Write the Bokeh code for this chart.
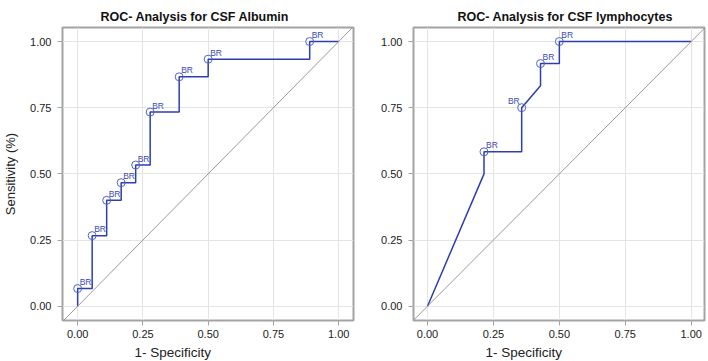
from bokeh.plotting import figure
from bokeh.models import Range1d, FixedTicker, NumeralTickFormatter, Slope, Title, ColumnDataSource
from bokeh.layouts import row
from bokeh.embed import file_html
from bokeh.resources import INLINE
from bokeh.core.properties import value

# ---------------- data ----------------
titles = ["ROC- Analysis for CSF Albumin", "ROC- Analysis for CSF lymphocytes"]
x_label = "1- Specificity"
y_label = "Sensitivity (%)"
tick_values = [0.0, 0.25, 0.5, 0.75, 1.0]

# CSF Albumin ROC curve vertices (1-specificity, sensitivity)
alb_fpr = [0, 0, 1/18, 1/18, 2/18, 2/18, 3/18, 3/18, 4/18, 4/18, 5/18, 5/18,
           7/18, 7/18, 9/18, 9/18, 16/18, 16/18, 1]
alb_tpr = [0, 1/15, 1/15, 4/15, 4/15, 6/15, 6/15, 7/15, 7/15, 8/15, 8/15, 11/15,
           11/15, 13/15, 13/15, 14/15, 14/15, 1, 1]
# CSF Albumin marked cut-off points
alb_pt_fpr = [0, 1/18, 2/18, 3/18, 4/18, 5/18, 7/18, 9/18, 16/18]
alb_pt_tpr = [1/15, 4/15, 6/15, 7/15, 8/15, 11/15, 13/15, 14/15, 1]
alb_pt_lab = ["BR"] * 9

# CSF lymphocytes ROC curve vertices
lym_fpr = [0, 3/14, 3/14, 5/14, 5/14, 6/14, 6/14, 7/14, 7/14, 1]
lym_tpr = [0, 6/12, 7/12, 7/12, 9/12, 10/12, 11/12, 11/12, 1, 1]
# CSF lymphocytes marked cut-off points
lym_pt_fpr = [3/14, 5/14, 6/14, 7/14]
lym_pt_tpr = [7/12, 9/12, 11/12, 1]
lym_pt_lab = ["BR"] * 4

# ---------------- style ----------------
LINE = "#2d3eae"
MARK = "#5264c2"
TXT = "#3a4ab2"
FRAME = "#a3a3a3"
GRID = "#e4e4e4"
FONT = "Liberation Sans"


def make_panel(title, fpr, tpr, pfpr, ptpr, plab, align, width, bl, br, xr, yr, ylab, toff):
    p = figure(width=width, height=361, output_backend="svg", toolbar_location=None,
               x_range=Range1d(*xr), y_range=Range1d(*yr),
               min_border_left=bl, min_border_right=br, min_border_top=27,
               min_border_bottom=41)
    p.title.text = title
    p.title.align = "left"
    p.title.offset = toff
    p.title.text_font = FONT
    p.title.text_font_style = "bold"
    p.title.text_font_size = "12.5px"
    p.title.text_color = "#111111"
    p.title.standoff = 8
    p.outline_line_color = FRAME
    p.outline_line_width = 2
    p.background_fill_color = "white"
    p.border_fill_color = "white"
    for ax in (p.xaxis, p.yaxis):
        ax.ticker = FixedTicker(ticks=tick_values)
        ax.formatter = NumeralTickFormatter(format="0.00")
        ax.axis_line_color = None
        ax.major_tick_line_color = FRAME
        ax.major_tick_line_width = 1
        ax.major_tick_out = 5
        ax.major_tick_in = 0
        ax.minor_tick_line_color = None
        ax.major_label_text_font = FONT
        ax.major_label_text_font_size = "11px"
        ax.major_label_text_color = "#222222"
    p.xaxis.major_label_standoff = 4
    p.yaxis.major_label_standoff = 6
    if ylab:
        p.yaxis.axis_label = ylab
        p.yaxis.axis_label_text_font = FONT
        p.yaxis.axis_label_text_font_size = "13px"
        p.yaxis.axis_label_text_font_style = "normal"
        p.yaxis.axis_label_text_color = "#222222"
        p.yaxis.axis_label_standoff = 9
    p.xgrid.ticker = FixedTicker(ticks=tick_values)
    p.ygrid.ticker = FixedTicker(ticks=tick_values)
    p.grid.grid_line_color = GRID
    p.grid.grid_line_width = 1

    xt = Title(text=x_label, align="left", offset=72, text_font=FONT,
               text_font_size="13.5px", text_font_style="normal", text_color="#222222",
               standoff=4)
    p.add_layout(xt, "below")

    p.add_layout(Slope(gradient=1, y_intercept=0, line_color="#9a9a9a", line_width=1))
    p.line(fpr, tpr, line_color=LINE, line_width=1.5)
    p.scatter(pfpr, ptpr, marker="circle", size=8, fill_color=None,
              line_color=MARK, line_width=1)
    src = ColumnDataSource(dict(x=pfpr, y=ptpr, t=plab, a=align,
                                xo=[2 if a == "left" else -2 for a in align]))
    p.text(x="x", y="y", text="t", source=src, text_align="a", x_offset="xo",
           y_offset=-1.5, text_baseline="bottom", text_font=value(FONT),
           text_font_size="8.5px", text_color=TXT)
    return p


p1 = make_panel(titles[0], alb_fpr, alb_tpr, alb_pt_fpr, alb_pt_tpr, alb_pt_lab,
                ["left"] * 9, 355, 52, 2, (-0.0581, 1.0567), (-0.054, 1.053), y_label, 38)
p2 = make_panel(titles[1], lym_fpr, lym_tpr, lym_pt_fpr, lym_pt_tpr, lym_pt_lab,
                ["left", "right", "left", "left"], 353, 58, 4, (-0.0531, 1.0504),
                (-0.054, 1.053), None, 44)

layout = row(p1, p2)
open("out.html", "w").write(file_html(layout, INLINE))
